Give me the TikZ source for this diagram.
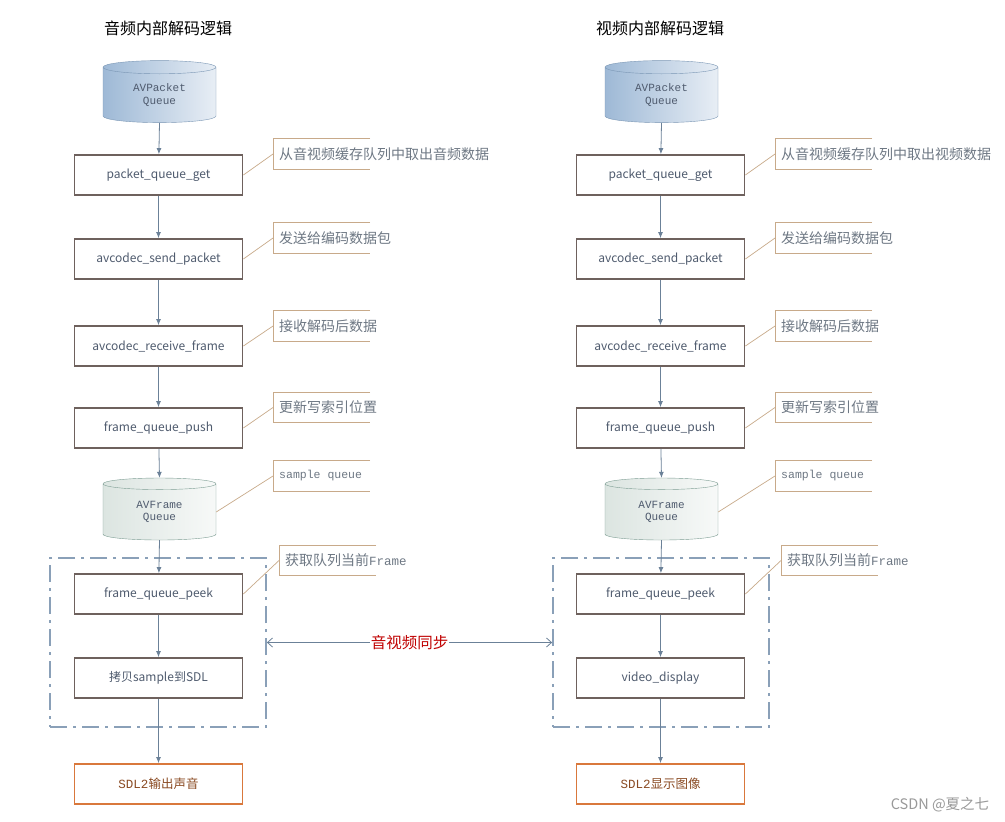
\documentclass[tikz,border=0pt]{standalone}
\usepackage{fontspec}
\setmainfont{Noto Sans CJK SC}
\newfontfamily\cjk{Noto Sans CJK SC}
\newfontfamily\monofont{Liberation Mono}
\usepackage{xcolor}
\usetikzlibrary{shapes.geometric,arrows.meta}

\definecolor{boxline}{HTML}{6E615D}
\definecolor{lbl}{HTML}{4F5B6E}
\definecolor{arr}{HTML}{6B8198}
\definecolor{notec}{HTML}{C8AA8A}
\definecolor{notet}{HTML}{6E7884}
\definecolor{dashc}{HTML}{8AA0B8}
\definecolor{outc}{HTML}{D9783C}
\definecolor{outt}{HTML}{8A4A22}
\definecolor{syncred}{HTML}{C00000}
\definecolor{pktdark}{HTML}{9EB9D6}
\definecolor{pktlight}{HTML}{E8EEF5}
\definecolor{pktline}{HTML}{7A96B4}
\definecolor{frmdark}{HTML}{DCE5E1}
\definecolor{frmlight}{HTML}{F7F9F8}
\definecolor{frmline}{HTML}{7E9E94}

\tikzset{
  proc/.style={draw=boxline, line width=1.8pt, fill=white, minimum width=168pt, minimum height=40pt, inner sep=0pt, font=\fontsize{12}{14}\selectfont, text=lbl},
  outbox/.style={proc, draw=outc, font=\monofont\fontsize{12.5}{14}\selectfont, text=outt},
  cyl/.style={cylinder, shape border rotate=90, aspect=0.25, minimum width=113pt, minimum height=62pt, inner sep=0pt, align=center, font=\monofont\fontsize{11}{12.5}\selectfont, text=lbl},
  pktq/.style={cyl, left color=pktdark, right color=pktlight, draw=pktline},
  frmq/.style={cyl, left color=frmdark, right color=frmlight, draw=frmline},
  flow/.style={draw=arr, line width=0.8pt, -{Latex[length=6pt,width=5pt]}},
  note/.style={anchor=west, minimum height=30pt, inner xsep=6pt, font=\fontsize{14}{16}\selectfont, text=notet},
  notel/.style={draw=notec, line width=0.7pt},
  grp/.style={draw=dashc, line width=1.8pt, dash pattern=on 17pt off 6pt on 3pt off 6pt, minimum width=216pt, minimum height=169pt},
  title/.style={font=\fontsize{16}{19}\selectfont, text=black}
}

\begin{document}
\begin{tikzpicture}[x=1pt, y=-1pt]
  \fill[white] (0,0) rectangle (1005,822);
  \useasboundingbox (0,0) rectangle (1005,822);

  % titles
  \node[title] (ta) at (168,28) {音频内部解码逻辑};
  \node[title] (tv) at (660,28) {视频内部解码逻辑};

  % audio side
  \node[pktq] (pqa) at (159.5,95) {AVPacket\\Queue};
  \node[proc] (pga) at (158.5,175) {packet\_queue\_get};
  \node[proc] (spa) at (158.5,259) {avcodec\_send\_packet};
  \node[proc] (rfa) at (158.5,346) {avcodec\_receive\_frame};
  \node[proc] (fpa) at (158.5,428) {frame\_queue\_push};
  \node[frmq] (fqa) at (159.5,512) {AVFrame\\Queue};
  \node[grp] (ga) at (158,642.5) {};
  \node[proc] (pka) at (158.5,594) {frame\_queue\_peek};
  \node[proc] (cpa) at (158.5,678) {拷贝sample到SDL};
  \node[outbox] (oa) at (158.5,784) {SDL2{\cjk 输出声音}};

  \draw[flow] (pqa.south) -- (pga);
  \draw[flow] (pga) -- (spa);
  \draw[flow] (spa) -- (rfa);
  \draw[flow] (rfa) -- (fpa);
  \draw[flow] (fpa) -- (fqa.north);
  \draw[flow] (fqa.south) -- (pka);
  \draw[flow] (pka) -- (cpa);
  \draw[flow] (cpa) -- (oa);

  % audio notes
  \node[note] (na1) at (273,154) {从音视频缓存队列中取出音频数据};
  \node[note] (na2) at (273,238) {发送给编码数据包};
  \node[note] (na3) at (273,326) {接收解码后数据};
  \node[note] (na4) at (273,407.5) {更新写索引位置};
  \node[note, font=\monofont\fontsize{11.5}{13}\selectfont] (na5) at (273,476) {sample queue};
  \node[note] (na6) at (279,560.5) {获取队列当前{\monofont\fontsize{12.5}{14}\selectfont Frame}};
  \draw[notel] ([xshift=97pt]na1.north west) -- (na1.north west) -- (na1.south west) -- ([xshift=97pt]na1.south west);
  \draw[notel] ([xshift=97pt]na2.north west) -- (na2.north west) -- (na2.south west) -- ([xshift=97pt]na2.south west);
  \draw[notel] ([xshift=97pt]na3.north west) -- (na3.north west) -- (na3.south west) -- ([xshift=97pt]na3.south west);
  \draw[notel] ([xshift=97pt]na4.north west) -- (na4.north west) -- (na4.south west) -- ([xshift=97pt]na4.south west);
  \draw[notel] ([xshift=97pt]na5.north west) -- (na5.north west) -- (na5.south west) -- ([xshift=97pt]na5.south west);
  \draw[notel] ([xshift=97pt]na6.north west) -- (na6.north west) -- (na6.south west) -- ([xshift=97pt]na6.south west);
  \draw[notel] (pga.east) -- (na1.west);
  \draw[notel] (spa.east) -- (na2.west);
  \draw[notel] (rfa.east) -- (na3.west);
  \draw[notel] (fpa.east) -- (na4.west);
  \draw[notel] (fqa.east) -- (na5.west);
  \draw[notel] (pka.east) -- (na6.west);

  % video side
  \node[pktq] (pqv) at (661.5,95) {AVPacket\\Queue};
  \node[proc] (pgv) at (660.5,175) {packet\_queue\_get};
  \node[proc] (spv) at (660.5,259) {avcodec\_send\_packet};
  \node[proc] (rfv) at (660.5,346) {avcodec\_receive\_frame};
  \node[proc] (fpv) at (660.5,428) {frame\_queue\_push};
  \node[frmq] (fqv) at (661.5,512) {AVFrame\\Queue};
  \node[grp] (gv) at (661,642.5) {};
  \node[proc] (pkv) at (660.5,594) {frame\_queue\_peek};
  \node[proc] (cpv) at (660.5,678) {video\_display};
  \node[outbox] (ov) at (660.5,784) {SDL2{\cjk 显示图像}};

  \draw[flow] (pqv.south) -- (pgv);
  \draw[flow] (pgv) -- (spv);
  \draw[flow] (spv) -- (rfv);
  \draw[flow] (rfv) -- (fpv);
  \draw[flow] (fpv) -- (fqv.north);
  \draw[flow] (fqv.south) -- (pkv);
  \draw[flow] (pkv) -- (cpv);
  \draw[flow] (cpv) -- (ov);

  % video notes
  \node[note] (nv1) at (775,154) {从音视频缓存队列中取出视频数据};
  \node[note] (nv2) at (775,238) {发送给编码数据包};
  \node[note] (nv3) at (775,326) {接收解码后数据};
  \node[note] (nv4) at (775,407.5) {更新写索引位置};
  \node[note, font=\monofont\fontsize{11.5}{13}\selectfont] (nv5) at (775,476) {sample queue};
  \node[note] (nv6) at (781,560.5) {获取队列当前{\monofont\fontsize{12.5}{14}\selectfont Frame}};
  \draw[notel] ([xshift=97pt]nv1.north west) -- (nv1.north west) -- (nv1.south west) -- ([xshift=97pt]nv1.south west);
  \draw[notel] ([xshift=97pt]nv2.north west) -- (nv2.north west) -- (nv2.south west) -- ([xshift=97pt]nv2.south west);
  \draw[notel] ([xshift=97pt]nv3.north west) -- (nv3.north west) -- (nv3.south west) -- ([xshift=97pt]nv3.south west);
  \draw[notel] ([xshift=97pt]nv4.north west) -- (nv4.north west) -- (nv4.south west) -- ([xshift=97pt]nv4.south west);
  \draw[notel] ([xshift=97pt]nv5.north west) -- (nv5.north west) -- (nv5.south west) -- ([xshift=97pt]nv5.south west);
  \draw[notel] ([xshift=97pt]nv6.north west) -- (nv6.north west) -- (nv6.south west) -- ([xshift=97pt]nv6.south west);
  \draw[notel] (pgv.east) -- (nv1.west);
  \draw[notel] (spv.east) -- (nv2.west);
  \draw[notel] (rfv.east) -- (nv3.west);
  \draw[notel] (fpv.east) -- (nv4.west);
  \draw[notel] (fqv.east) -- (nv5.west);
  \draw[notel] (pkv.east) -- (nv6.west);

  % sync
  \draw[draw=arr, line width=0.8pt, {Straight Barb[length=5pt,width=9pt]}-{Straight Barb[length=5pt,width=9pt]}] (ga.east) -- (gv.west)
    node[midway, fill=white, inner sep=1pt, font=\fontsize{15.5}{18}\selectfont, text=syncred] (sy) {音视频同步};

  \node[font=\fontsize{14.5}{16}\selectfont, text=gray!80] (wm) at (940,805) {CSDN @夏之七};
\end{tikzpicture}
\end{document}
